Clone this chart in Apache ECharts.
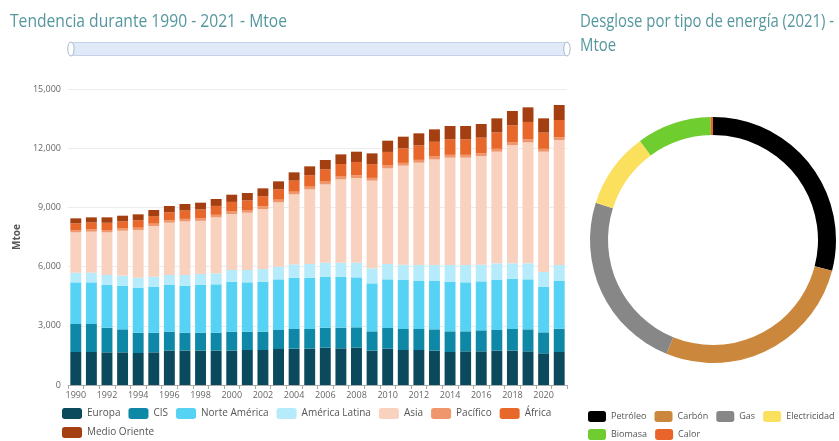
<!DOCTYPE html>
<html>
<head>
<meta charset="utf-8">
<script src="https://cdn.jsdelivr.net/npm/echarts@6/dist/echarts.min.js"></script>
<style>html,body{margin:0;padding:0;background:#fff;}#c{width:839px;height:441px;}</style>
</head>
<body>
<div id="c"></div>
<script>
const years = ['1990','1991','1992','1993','1994','1995','1996','1997','1998','1999','2000','2001','2002','2003','2004','2005','2006','2007','2008','2009','2010','2011','2012','2013','2014','2015','2016','2017','2018','2019','2020','2021'];
const regionNames = ['Europa','CIS','Norte América','América Latina','Asia','Pacífico','África','Medio Oriente'];
const europa = [1672,1672,1655,1655,1621,1655,1740,1740,1740,1740,1740,1773,1773,1824,1841,1841,1892,1858,1892,1740,1841,1773,1773,1740,1672,1706,1706,1740,1740,1706,1605,1672];
const cis = [1419,1419,1250,1166,1031,997,962,912,912,912,962,929,929,963,997,997,1013,1047,1030,979,1047,1065,1065,1081,1047,1013,1064,1047,1098,1115,1064,1182];
const norteAmerica = [2111,2111,2179,2212,2280,2331,2365,2381,2415,2449,2534,2500,2534,2567,2600,2600,2584,2584,2533,2432,2466,2482,2432,2449,2500,2483,2483,2533,2550,2533,2314,2416];
const americaLatina = [490,490,490,507,506,506,507,541,557,557,591,625,642,642,676,693,710,710,744,761,777,777,810,810,861,878,844,845,777,811,743,810];
const asia = [2044,2078,2162,2280,2416,2568,2652,2719,2696,2838,2838,2905,3040,3260,3547,3783,3969,4222,4290,4442,4848,5017,5186,5355,5439,5439,5507,5658,5996,6132,6097,6335];
const pacifico = [110,112,114,116,118,120,123,125,127,128,130,131,132,134,135,137,139,140,142,141,143,142,142,143,145,144,144,146,148,150,145,147];
const africa = [349,354,371,359,376,385,406,424,447,451,484,491,520,530,560,584,624,636,672,698,689,738,735,747,790,786,787,834,855,883,825,866];
const medioOriente = [250,260,275,285,300,305,315,330,345,350,365,375,395,400,420,445,470,490,520,545,570,590,610,630,670,675,690,710,720,740,720,760];
const regionColors = ['#0b4a5c','#0e88a6','#55d2f4','#b5ebfa','#f8d1bf','#f0966c','#e8682b','#a33f10'];

const energyNames = ['Petróleo','Carbón','Gas','Electricidad','Biomasa','Calor'];
const energyValues = [4150,3880,3390,1430,1400,45];
const energyColors = ['#000000','#cb873b','#878787','#fbe05e','#6fcd2f','#e8642a'];

const yTicks = [0,3000,6000,9000,12000,15000];

const titleLeft = 'Tendencia durante 1990 - 2021 - Mtoe';
const titleRight1 = 'Desglose por tipo de energía (2021) -';
const titleRight2 = 'Mtoe';

const regionData = [europa,cis,norteAmerica,americaLatina,asia,pacifico,africa,medioOriente];

const txt = "'Open Sans', sans-serif";
const mctx = document.createElement('canvas').getContext('2d');
mctx.font = "18px 'Open Sans'";
const scaleLeft = 277 / mctx.measureText(titleLeft).width;
const scaleRight = 254 / mctx.measureText(titleRight1).width;

const chart = echarts.init(document.getElementById('c'), null, {renderer:'canvas'});

function titleText(str, x, y, s){
  return {type:'text', x:x, y:y, scaleX:s, scaleY:1, silent:true,
    style:{text:str, fontFamily:'Open Sans', fontSize:18, fill:'#55979f',
           textVerticalAlign:'middle', textAlign:'left'}};
}

const legendText = {fontFamily:txt, fontSize:10, color:'#555'};
const legendText2 = {fontFamily:txt, fontSize:9, color:'#555'};

const option = {
  animation: false,
  backgroundColor: '#fff',
  graphic: [
    titleText(titleLeft, 10, 22, scaleLeft),
    titleText(titleRight1, 580, 22, scaleRight),
    titleText(titleRight2, 580, 46, scaleRight)
  ],
  dataZoom: [{
    type:'slider', xAxisIndex:0, start:0, end:100,
    left:69, right:272, top:42, height:14,
    showDetail:false, showDataShadow:false, brushSelect:false,
    moveHandleSize:0,
    backgroundColor:'rgba(0,0,0,0)',
    fillerColor:'#dfe9f8',
    borderColor:'#c4d2e8',
    handleIcon:'path://M50,0 C80,0 80,100 50,100 C20,100 20,0 50,0 Z',
    handleSize:'100%',
    handleStyle:{color:'#ffffff', borderColor:'#a9b8cf', borderWidth:1},
    textStyle:{color:'transparent'}
  }],
  legend: [
    {data:regionNames.slice(0,7), left:62, top:408, padding:0, width:700, itemWidth:20, itemHeight:11, itemGap:8,
     icon:'roundRect', textStyle:legendText},
    {data:regionNames.slice(7), left:62, top:427, padding:0, width:700, itemWidth:20, itemHeight:11, itemGap:8,
     icon:'roundRect', textStyle:legendText},
    {data:energyNames.slice(0,4), left:588, top:411, padding:0, width:600, itemWidth:18, itemHeight:11, itemGap:8,
     icon:'roundRect', textStyle:legendText2},
    {data:energyNames.slice(4), left:588, top:429, padding:0, width:600, itemWidth:18, itemHeight:11, itemGap:8,
     icon:'roundRect', textStyle:legendText2}
  ],
  grid: {left:68, right:272, top:89, bottom:56, containLabel:false},
  xAxis: {
    type:'category', data:years,
    axisLine:{lineStyle:{color:'#aaa'}},
    axisTick:{show:true, interval:0, length:4, lineStyle:{color:'#aaa'}},
    axisLabel:{interval:1, fontFamily:txt, fontSize:9, color:'#666', margin:6}
  },
  yAxis: {
    type:'value', min:yTicks[0], max:yTicks[yTicks.length-1], interval:3000,
    name:'Mtoe', nameLocation:'middle', nameGap:43,
    nameTextStyle:{fontFamily:txt, fontSize:10, fontWeight:'bold', color:'#555'},
    axisLine:{show:false}, axisTick:{show:false},
    axisLabel:{fontFamily:txt, fontSize:9, color:'#666', margin:7,
      formatter:v=>v.toLocaleString('en-US')},
    splitLine:{lineStyle:{color:'#ececec'}}
  },
  series: regionNames.map((n,i)=>({
    name:n, type:'bar', stack:'total', data:regionData[i],
    barCategoryGap:'30%', itemStyle:{color:regionColors[i]}
  })).concat([{
    name:'Desglose', type:'pie', center:[713,240], radius:[105,123],
    startAngle:90, clockwise:true, label:{show:false}, labelLine:{show:false},
    emphasis:{disabled:true},
    data: energyNames.map((n,i)=>({name:n, value:energyValues[i], itemStyle:{color:energyColors[i]}}))
  }])
};
chart.setOption(option);
</script>
</body>
</html>
